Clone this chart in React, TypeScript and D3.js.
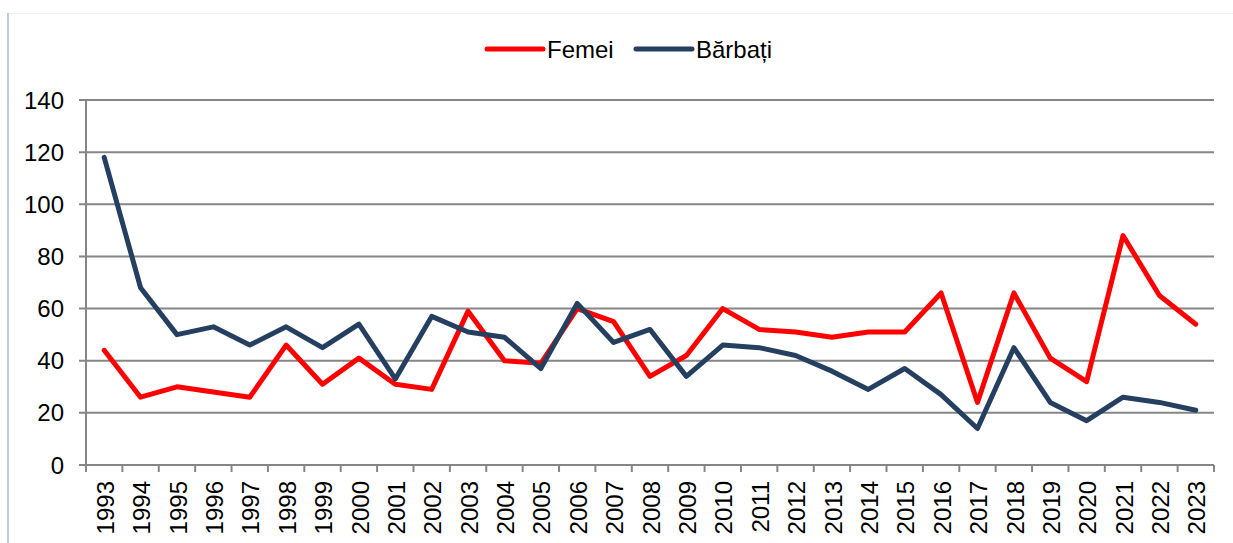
import { useEffect, useRef } from 'react'
import * as d3 from 'd3'

// Data
const years = [
  '1993', '1994', '1995', '1996', '1997', '1998', '1999', '2000', '2001', '2002',
  '2003', '2004', '2005', '2006', '2007', '2008', '2009', '2010', '2011', '2012',
  '2013', '2014', '2015', '2016', '2017', '2018', '2019', '2020', '2021', '2022', '2023'
]
const femei = [
  44, 26, 30, 28, 26, 46, 31, 41, 31, 29,
  59, 40, 39, 60, 55, 34, 42, 60, 52, 51,
  49, 51, 51, 66, 24, 66, 41, 32, 88, 65, 54
]
const barbati = [
  118, 68, 50, 53, 46, 53, 45, 54, 33, 57,
  51, 49, 37, 62, 47, 52, 34, 46, 45, 42,
  36, 29, 37, 27, 14, 45, 24, 17, 26, 24, 21
]
const yTicks = [0, 20, 40, 60, 80, 100, 120, 140]

const series = [
  { name: 'Femei', values: femei, color: '#ff0000' },
  { name: 'Bărbați', values: barbati, color: '#243f60' }
]

const W = 1233
const H = 543
const FONT = 'Arial, "Liberation Sans", sans-serif'

function App() {
  const svgRef = useRef<SVGSVGElement | null>(null)

  useEffect(() => {
    if (!svgRef.current) return
    const root = d3.select(svgRef.current)
    root.selectAll('*').remove()

    const margin = { top: 100, right: 19, bottom: 78, left: 86 }
    const width = W - margin.left - margin.right
    const height = H - margin.top - margin.bottom

    // outer frame
    root.append('line')
      .attr('x1', 8).attr('x2', W).attr('y1', 13.5).attr('y2', 13.5)
      .attr('stroke', '#f0f0f0').attr('stroke-width', 1)
    root.append('line')
      .attr('x1', 8).attr('x2', 8).attr('y1', 13).attr('y2', H)
      .attr('stroke', '#b9cde5').attr('stroke-width', 2)

    const g = root.append('g')
      .attr('transform', `translate(${margin.left},${margin.top})`)

    const x = d3.scaleBand().domain(years).range([0, width])
    const y = d3.scaleLinear().domain([0, 140]).range([height, 0])

    // gridlines + y ticks
    g.append('g')
      .selectAll('line')
      .data(yTicks)
      .enter()
      .append('line')
      .attr('x1', -7)
      .attr('x2', width)
      .attr('y1', d => y(d))
      .attr('y2', d => y(d))
      .attr('stroke', '#868686')
      .attr('stroke-width', 2)

    g.append('g')
      .selectAll('text')
      .data(yTicks)
      .enter()
      .append('text')
      .attr('x', -22)
      .attr('y', d => y(d))
      .attr('dy', '0.36em')
      .attr('text-anchor', 'end')
      .style('font-family', FONT)
      .style('font-size', '24px')
      .style('fill', '#000')
      .text(d => d)

    // y axis line
    g.append('line')
      .attr('x1', 0).attr('x2', 0).attr('y1', 0).attr('y2', height)
      .attr('stroke', '#868686').attr('stroke-width', 2)

    // x ticks at category boundaries
    const bounds = d3.range(years.length + 1).map(i => i * x.step())
    g.append('g')
      .selectAll('line')
      .data(bounds)
      .enter()
      .append('line')
      .attr('x1', d => d).attr('x2', d => d)
      .attr('y1', height).attr('y2', height + 7)
      .attr('stroke', '#868686')
      .attr('stroke-width', 2)

    // x labels (rotated)
    g.append('g')
      .selectAll('text')
      .data(years)
      .enter()
      .append('text')
      .attr('transform', d => `translate(${x(d)! + x.bandwidth() / 2 + 1},${height + 16}) rotate(-90)`)
      .attr('dy', '0.36em')
      .attr('text-anchor', 'end')
      .style('font-family', FONT)
      .style('font-size', '24px')
      .style('fill', '#000')
      .text(d => d)

    // lines
    const line = d3.line<number>()
      .x((_, i) => x(years[i])! + x.bandwidth() / 2)
      .y(d => y(d))

    series.forEach(s => {
      g.append('path')
        .datum(s.values)
        .attr('d', line)
        .attr('fill', 'none')
        .attr('stroke', s.color)
        .attr('stroke-width', 5)
        .attr('stroke-linejoin', 'round')
        .attr('stroke-linecap', 'round')
    })

    // legend
    const legendX = [487, 636]
    const legend = root.append('g')
    series.forEach((s, i) => {
      const lg = legend.append('g').attr('transform', `translate(${legendX[i]},49)`)
      lg.append('line')
        .attr('x1', 0).attr('x2', 56).attr('y1', 0).attr('y2', 0)
        .attr('stroke', s.color)
        .attr('stroke-width', 5)
        .attr('stroke-linecap', 'round')
      lg.append('text')
        .attr('x', 60)
        .attr('y', 0)
        .attr('dy', '0.36em')
        .style('font-family', FONT)
        .style('font-size', '24px')
        .style('fill', '#000')
        .text(s.name)
    })
  }, [])

  return (
    <svg
      ref={svgRef}
      width={W}
      height={H}
      style={{ position: 'absolute', left: 0, top: 0, background: '#fff' }}
    />
  )
}

export default App
